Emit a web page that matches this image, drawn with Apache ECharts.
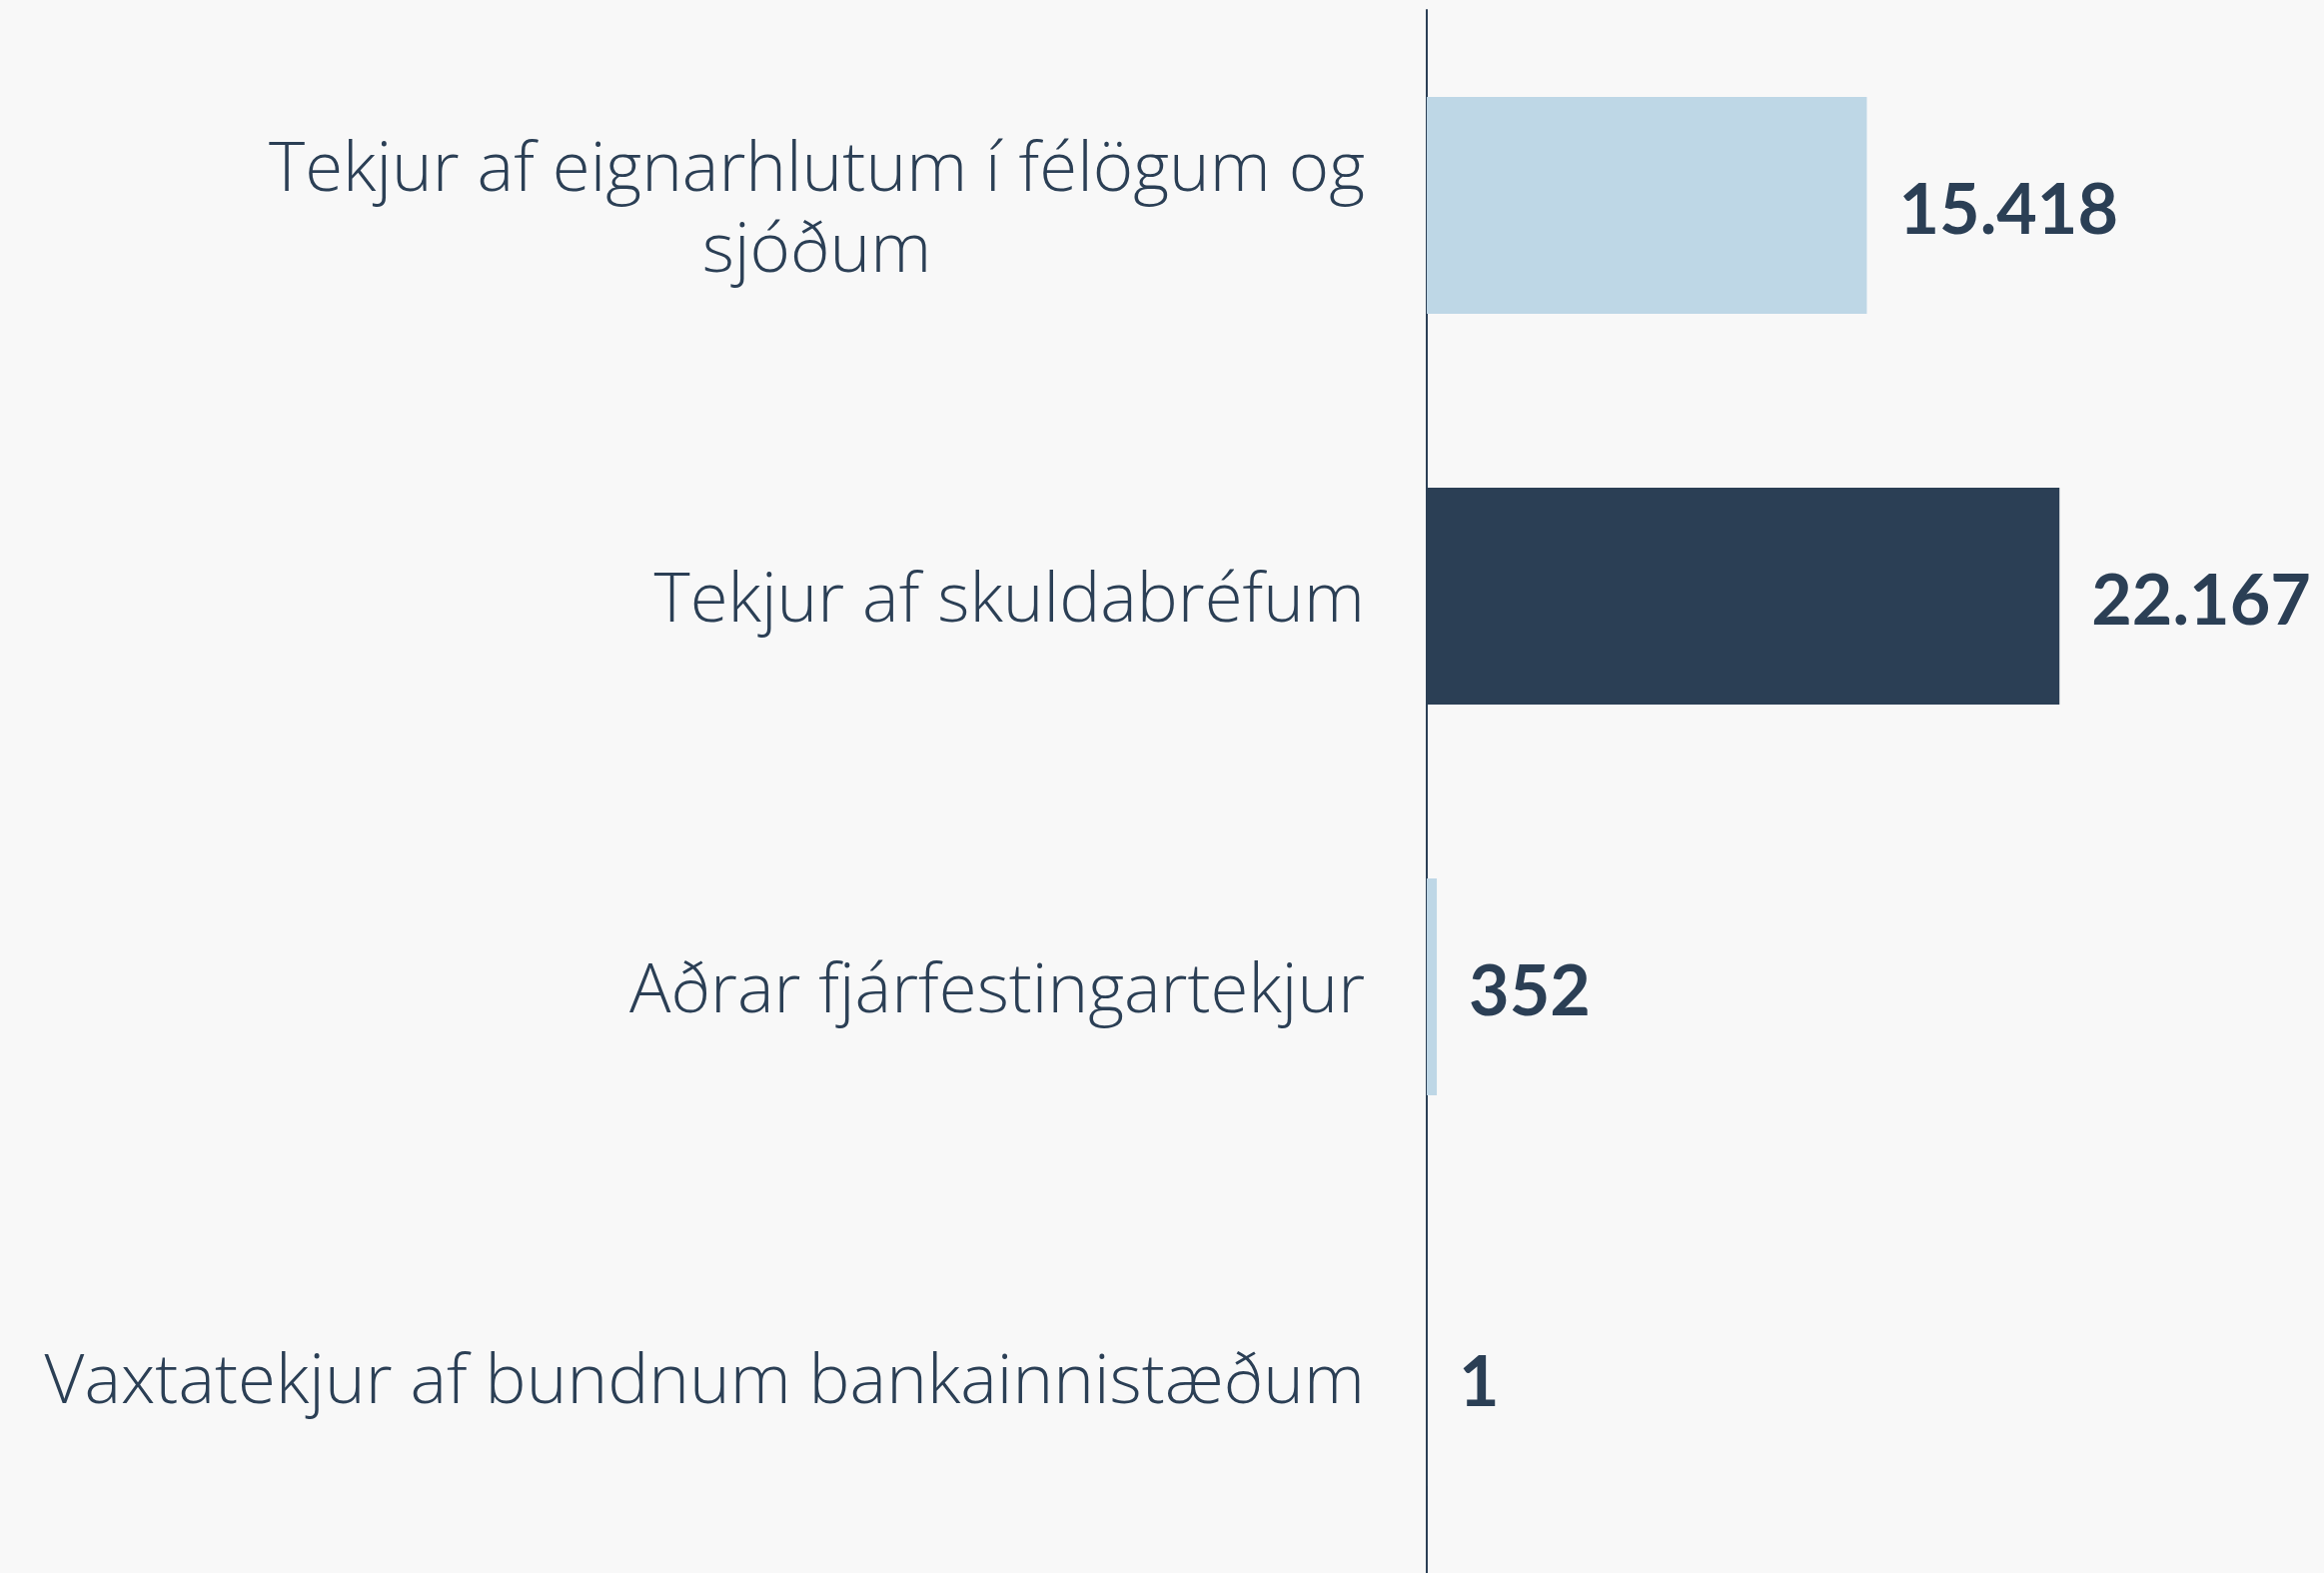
<!DOCTYPE html>
<html><head><meta charset="utf-8">
<script src="https://cdn.jsdelivr.net/npm/echarts@6/dist/echarts.min.js"></script>
<style>html,body{margin:0;padding:0;background:#f8f8f8}#c{width:2326px;height:1574px}</style>
</head><body><div id="c"></div>
<script>
const categories = ['Tekjur af eignarhlutum í félögum og\nsjóðum', 'Tekjur af skuldabréfum', 'Aðrar fjárfestingartekjur', 'Vaxtatekjur af bundnum bankainnistæðum'];
const values = [15418, 22167, 352, 1];
const highlight = [false, true, false, false];
const DARK = '#2b3f55', LIGHT = '#bed7e6';
const fmt = v => String(v).replace(/\B(?=(\d{3})+(?!\d))/g, '.');
const chart = echarts.init(document.getElementById('c'), null, {renderer: 'canvas'});
chart.setOption({
  backgroundColor: '#f8f8f8',
  animation: false,
  grid: {left: 1428, top: 10, width: 857, height: 1571},
  xAxis: {type: 'value', min: 0, max: 30000, show: false},
  yAxis: {
    type: 'category', data: categories, inverse: true,
    axisLine: {show: true, lineStyle: {color: DARK, width: 2}},
    axisTick: {show: false},
    axisLabel: {
      margin: 62, color: DARK, fontFamily: 'Open Sans', fontWeight: 300, fontSize: 69, lineHeight: 81,
      padding: [12, 0, 0, 0],
      formatter: v => v.split('\n').map(s => '{c|' + s + '}').join('\n'),
      rich: {c: {align: 'center', fontFamily: 'Open Sans', fontWeight: 300, fontSize: 69, lineHeight: 81, color: DARK}}
    }
  },
  series: [{
    type: 'bar', barCategoryGap: '44.5%',
    data: values.map((v, i) => ({value: v, itemStyle: {color: highlight[i] ? DARK : LIGHT}})),
    label: {show: true, position: 'right', distance: 32, offset: [0, 6], color: DARK, fontFamily: 'Lato', fontWeight: 'bold', fontSize: 70,
      formatter: p => fmt(p.value)}
  }]
});
</script></body></html>
